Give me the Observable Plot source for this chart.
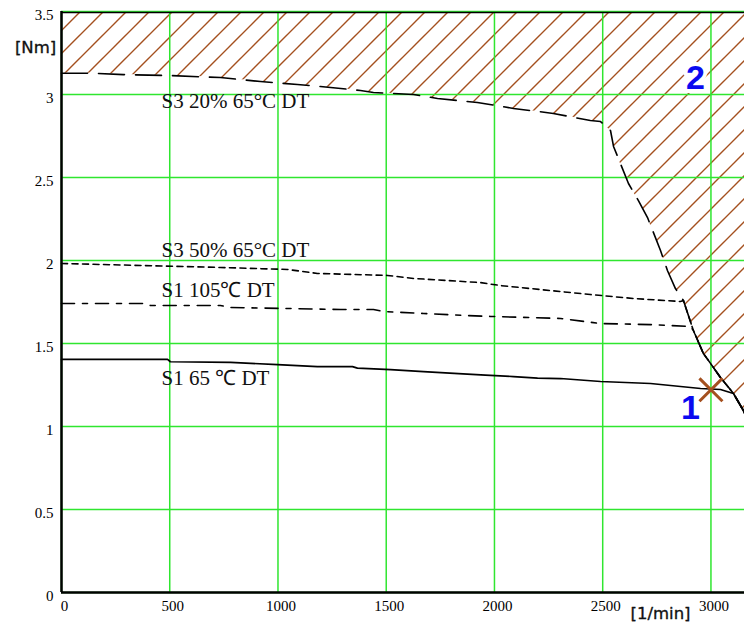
<!DOCTYPE html>
<html><head><meta charset="utf-8">
<script src="https://cdn.jsdelivr.net/npm/d3@7"></script>
<script src="https://cdn.jsdelivr.net/npm/@observablehq/plot@0.6"></script>
<style>
html,body{margin:0;padding:0;background:#fff;}
#chart svg{display:block;}
</style></head><body><div id="chart"></div>
<script>
// ---- data (speed in 1/min, torque in Nm) ----
const xTicks = [0, 500, 1000, 1500, 2000, 2500, 3000];
const yTicks = [0, 0.5, 1, 1.5, 2, 2.5, 3, 3.5];

const s3_20_rpm = [0, 148, 286, 503, 734, 919, 1090, 1196, 1381, 1441, 1626, 1737, 1921, 2088, 2272, 2443, 2490];
const s3_20_nm  = [3.128, 3.128, 3.120, 3.114, 3.102, 3.078, 3.060, 3.048, 3.024, 3.012, 3.000, 2.976, 2.952, 2.916, 2.886, 2.843, 2.837];

const limit_rpm = [2536, 2550, 2619, 2665, 2707, 2767, 2799, 2836, 2873, 2919, 2965, 2998, 3044, 3104, 3150, 3155];
const limit_nm  = [2.783, 2.687, 2.464, 2.361, 2.259, 2.060, 1.940, 1.831, 1.759, 1.578, 1.440, 1.380, 1.295, 1.199, 1.096, 1.08];

const s3_50_rpm = [0, 734, 1044, 1182, 1506, 1626, 1935, 2028, 2305, 2443, 2642, 2859];
const s3_50_nm  = [1.982, 1.958, 1.946, 1.922, 1.910, 1.892, 1.867, 1.849, 1.813, 1.795, 1.771, 1.753];

const s1_105_rpm = [0, 379, 411, 734, 781, 1289, 1441, 1487, 1672, 1857, 1982, 2305, 2490, 2721, 2905];
const s1_105_nm  = [1.741, 1.741, 1.729, 1.729, 1.717, 1.705, 1.705, 1.693, 1.681, 1.669, 1.663, 1.651, 1.620, 1.614, 1.602];

const s1_65_rpm = [0, 490, 503, 781, 998, 1182, 1344, 1367, 1520, 1672, 1834, 1958, 2088, 2199, 2305, 2490, 2721, 2952, 3044, 3104];
const s1_65_nm  = [1.404, 1.404, 1.390, 1.386, 1.373, 1.361, 1.361, 1.352, 1.343, 1.331, 1.319, 1.310, 1.301, 1.292, 1.289, 1.271, 1.259, 1.229, 1.223, 1.199];

const curveLabels = ["S3 20% 65°C DT", "S3 50% 65°C DT", "S1 105℃ DT", "S1 65 ℃ DT"];
const curveLabelRpm = [462, 462, 462, 462];
const curveLabelNm  = [2.916, 2.02, 1.779, 1.253];

const markerLabels = ["2", "1"];
const markerLabelRpm = [2928, 2905];
const markerLabelNm  = [3.096, 1.108];

const crossRpm = [3000];
const crossNm  = [1.221];

const axisTitles = ["[Nm]", "[1/min]"];
const axisTitleRpm = [-120, 2767];
const axisTitleNm  = [3.283, -0.125];

// ---- build tables ----
const zip = (xs, ys) => xs.map((x, i) => ({rpm: x, nm: ys[i]}));
const limit = zip(limit_rpm, limit_nm);
const withLimit = (pts) => pts.concat(limit.filter(p => p.rpm > pts[pts.length - 1].rpm));
const boundary = zip(s3_20_rpm, s3_20_nm).concat(limit);
const s3_50 = withLimit(zip(s3_50_rpm, s3_50_nm));
const s1_105 = withLimit(zip(s1_105_rpm, s1_105_nm));
const s1_65 = withLimit(zip(s1_65_rpm, s1_65_nm));
const labels = curveLabels.map((t, i) => ({t, rpm: curveLabelRpm[i], nm: curveLabelNm[i]}));
const marks2 = markerLabels.map((t, i) => ({t, rpm: markerLabelRpm[i], nm: markerLabelNm[i]}));
const cross = zip(crossRpm, crossNm);
const titles = axisTitles.map((t, i) => ({t, rpm: axisTitleRpm[i], nm: axisTitleNm[i]}));

const green = "#2fe62f";
const brown = "#a4501f";
const serif = "'Liberation Serif', 'Times New Roman', serif";

const svg = Plot.plot({
  width: 744,
  height: 625,
  marginLeft: 61,
  marginRight: 0,
  marginTop: 11,
  marginBottom: 33,
  style: {fontFamily: serif, fontSize: "15px", background: "#fff", overflow: "visible"},
  x: {domain: [0, 3155], label: null},
  y: {domain: [0, 3.5], label: null},
  marks: [
    Plot.areaY(boundary, {x: "rpm", y1: "nm", y2: d => 3.5, fill: "url(#hatch)"}),
    Plot.gridX(xTicks, {stroke: green, strokeOpacity: 1, strokeWidth: 1.5}),
    Plot.gridY(yTicks, {stroke: green, strokeOpacity: 1, strokeWidth: 1.5}),
    Plot.ruleY([3.5], {stroke: "black", strokeWidth: 1.5, dy: 1}),
    Plot.line(boundary, {x: "rpm", y: "nm", stroke: "black", strokeWidth: 1.6, strokeDasharray: "26,11"}),
    Plot.line(s3_50, {x: "rpm", y: "nm", stroke: "black", strokeWidth: 1.6, strokeDasharray: "6,4.5"}),
    Plot.line(s1_105, {x: "rpm", y: "nm", stroke: "black", strokeWidth: 1.6, strokeDasharray: "13,8,5,8"}),
    Plot.line(s1_65, {x: "rpm", y: "nm", stroke: "black", strokeWidth: 1.7}),
    Plot.ruleX([0], {stroke: "black", strokeWidth: 2.5}),
    Plot.ruleY([0], {stroke: "black", strokeWidth: 2.5}),
    Plot.text(labels, {x: "rpm", y: "nm", text: "t", textAnchor: "start", lineAnchor: "bottom", fontSize: 21, fontFamily: serif, fill: "#111"}),
    Plot.dot(cross, {x: "rpm", y: "nm", symbol: "times", r: 10.5, stroke: brown, strokeWidth: 3}),
    Plot.text(marks2, {x: "rpm", y: "nm", text: "t", fontSize: 34, fontWeight: "bold", fontFamily: "Liberation Sans", fill: "#0a0af0", stroke: "white", strokeWidth: 8, paintOrder: "stroke"}),
    Plot.text(titles, {x: "rpm", y: "nm", text: "t", fontSize: 16.5, fontFamily: "DejaVu Sans", fill: "#111", stroke: "#111", strokeWidth: 0.35}),
    Plot.axisX(xTicks, {tickSize: 0, tickPadding: 8, dx: 3, fontSize: 15, fontFamily: serif, fontVariant: "normal", label: null, tickFormat: d => String(d)}),
    Plot.axisY(yTicks, {tickSize: 0, tickPadding: 8, dy: 4, fontSize: 15, fontFamily: serif, fontVariant: "normal", label: null, tickFormat: d => String(d)})
  ]
});

const defs = d3.select(svg).insert("defs", ":first-child");
const pat = defs.append("pattern").attr("id", "hatch").attr("patternUnits", "userSpaceOnUse")
  .attr("width", 23).attr("height", 23);
pat.append("path").attr("d", "M-3,3 L3,-3 M0,23 L23,0 M20,26 L26,20")
  .attr("stroke", brown).attr("stroke-width", 1.4).attr("fill", "none");

document.getElementById("chart").appendChild(svg);
</script>
</body></html>
